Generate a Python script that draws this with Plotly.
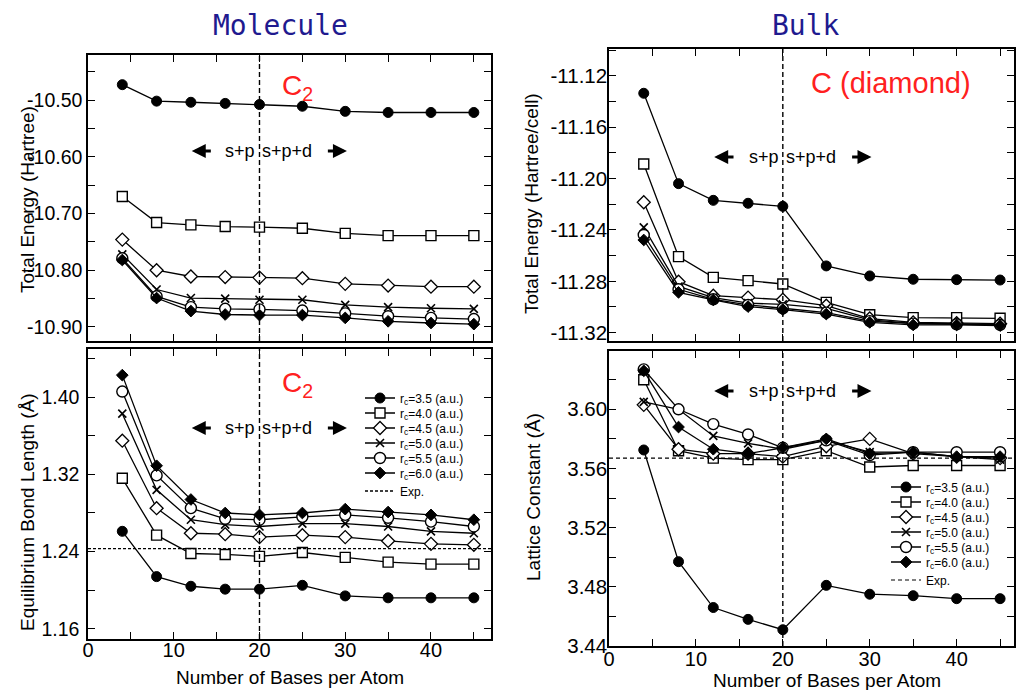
import plotly.graph_objects as go

# ---------------- data ----------------
BASES = [4, 8, 12, 16, 20, 25, 30, 35, 40, 45]
RC_VALUES = ["3.5", "4.0", "4.5", "5.0", "5.5", "6.0"]
SPLIT_BASES = 20
X_RANGE_LEFT = [0, 47]
X_RANGE_RIGHT = [0, 46.6]
X_TICKS = [0, 10, 20, 30, 40]
Y_TICKS_MOL_E = [-10.90, -10.80, -10.70, -10.60, -10.50]
Y_TICKS_MOL_B = [1.16, 1.24, 1.32, 1.40]
Y_TICKS_BULK_E = [-11.32, -11.28, -11.24, -11.20, -11.16, -11.12]
Y_TICKS_BULK_L = [3.44, 3.48, 3.52, 3.56, 3.60]

# Molecule C2 total energy (Hartree)
MOL_E_35 = [-10.473, -10.502, -10.504, -10.506, -10.508, -10.511, -10.520, -10.522, -10.522, -10.522]
MOL_E_40 = [-10.670, -10.716, -10.720, -10.723, -10.724, -10.726, -10.735, -10.739, -10.739, -10.739]
MOL_E_45 = [-10.746, -10.800, -10.811, -10.812, -10.813, -10.814, -10.824, -10.827, -10.829, -10.829]
MOL_E_50 = [-10.772, -10.834, -10.849, -10.850, -10.852, -10.852, -10.861, -10.865, -10.867, -10.868]
MOL_E_55 = [-10.779, -10.846, -10.865, -10.868, -10.869, -10.871, -10.876, -10.881, -10.884, -10.886]
MOL_E_60 = [-10.782, -10.849, -10.872, -10.878, -10.879, -10.879, -10.884, -10.890, -10.893, -10.895]

# Molecule C2 equilibrium bond length (Angstrom)
MOL_B_35 = [1.261, 1.214, 1.204, 1.201, 1.201, 1.205, 1.194, 1.192, 1.192, 1.192]
MOL_B_40 = [1.316, 1.257, 1.238, 1.237, 1.235, 1.239, 1.234, 1.229, 1.227, 1.227]
MOL_B_45 = [1.355, 1.285, 1.259, 1.258, 1.255, 1.257, 1.255, 1.251, 1.248, 1.247]
MOL_B_50 = [1.383, 1.304, 1.273, 1.268, 1.266, 1.269, 1.269, 1.266, 1.261, 1.259]
MOL_B_55 = [1.406, 1.319, 1.285, 1.274, 1.273, 1.276, 1.278, 1.275, 1.271, 1.266]
MOL_B_60 = [1.423, 1.329, 1.294, 1.280, 1.278, 1.280, 1.284, 1.281, 1.278, 1.273]
EXP_BOND = 1.243

# Bulk C (diamond) total energy (Hartree/cell)
BULK_E_35 = [-11.1335, -11.2039, -11.2169, -11.2192, -11.2216, -11.2680, -11.2758, -11.2784, -11.2787, -11.2790]
BULK_E_40 = [-11.1886, -11.2608, -11.2769, -11.2795, -11.2821, -11.2964, -11.3060, -11.3083, -11.3083, -11.3088]
BULK_E_45 = [-11.2184, -11.2803, -11.2912, -11.2927, -11.2943, -11.2990, -11.3090, -11.3120, -11.3127, -11.3130]
BULK_E_50 = [-11.2380, -11.2840, -11.2927, -11.2970, -11.2980, -11.3010, -11.3100, -11.3127, -11.3130, -11.3140]
BULK_E_55 = [-11.2439, -11.2862, -11.2940, -11.2984, -11.3010, -11.3044, -11.3110, -11.3130, -11.3135, -11.3140]
BULK_E_60 = [-11.2478, -11.2886, -11.2945, -11.2997, -11.3020, -11.3055, -11.3120, -11.3140, -11.3140, -11.3145]

# Bulk lattice constant (Angstrom)
BULK_L_35 = [3.5725, 3.497, 3.466, 3.458, 3.451, 3.481, 3.475, 3.474, 3.472, 3.472]
BULK_L_40 = [3.620, 3.572, 3.567, 3.566, 3.566, 3.572, 3.561, 3.562, 3.562, 3.562]
BULK_L_45 = [3.603, 3.573, 3.570, 3.570, 3.568, 3.575, 3.580, 3.570, 3.568, 3.567]
BULK_L_50 = [3.605, 3.600, 3.582, 3.577, 3.573, 3.579, 3.571, 3.571, 3.568, 3.566]
BULK_L_55 = [3.627, 3.600, 3.590, 3.583, 3.574, 3.579, 3.569, 3.571, 3.571, 3.571]
BULK_L_60 = [3.626, 3.588, 3.573, 3.570, 3.574, 3.580, 3.570, 3.571, 3.568, 3.568]
EXP_LATTICE = 3.567

# ---------------- styles ----------------
FONT = "Liberation Sans"
MARKERS = [
    dict(symbol="circle", size=10, color="black", line=dict(width=1, color="black")),
    dict(symbol="square", size=10, color="white", line=dict(width=1.4, color="black")),
    dict(symbol="diamond", size=10, color="white", line=dict(width=1.3, color="black")),
    dict(symbol="x-thin-open", size=8, color="black", line=dict(width=1.6, color="black")),
    dict(symbol="circle", size=11, color="white", line=dict(width=1.4, color="black")),
    dict(symbol="diamond", size=9, color="black", line=dict(width=1, color="black")),
]

fig = go.Figure()

panels = [
    ("x", "y", [MOL_E_35, MOL_E_40, MOL_E_45, MOL_E_50, MOL_E_55, MOL_E_60], None),
    ("x2", "y2", [MOL_B_35, MOL_B_40, MOL_B_45, MOL_B_50, MOL_B_55, MOL_B_60], 0),
    ("x3", "y3", [BULK_E_35, BULK_E_40, BULK_E_45, BULK_E_50, BULK_E_55, BULK_E_60], None),
    ("x4", "y4", [BULK_L_35, BULK_L_40, BULK_L_45, BULK_L_50, BULK_L_55, BULK_L_60], 7),
]

for xa, ya, series, leg_offset in panels:
    for i, (vals, rc) in enumerate(zip(series, RC_VALUES)):
        if leg_offset is not None:
            n = leg_offset + i + 1
            kw = dict(showlegend=True, legend="legend" if n == 1 else f"legend{n}")
        else:
            kw = dict(showlegend=False)
        fig.add_trace(go.Scatter(
            x=BASES, y=vals, xaxis=xa, yaxis=ya, mode="lines+markers",
            name=f"r<sub>c</sub>={rc} (a.u.)",
            line=dict(color="black", width=1.3),
            marker=MARKERS[i], **kw))

fig.add_trace(go.Scatter(
    x=X_RANGE_LEFT, y=[EXP_BOND, EXP_BOND], xaxis="x2", yaxis="y2", mode="lines",
    name="Exp.", line=dict(color="black", width=1.3, dash="3px,2px"),
    showlegend=True, legend="legend7"))
fig.add_trace(go.Scatter(
    x=X_RANGE_RIGHT, y=[EXP_LATTICE, EXP_LATTICE], xaxis="x4", yaxis="y4", mode="lines",
    name="Exp.", line=dict(color="black", width=1.2, dash="4px,3px"),
    showlegend=True, legend="legend14"))


def axis(domain, rng, ticks, minor, labels, anchor, fmt, size, standoff):
    return dict(
        domain=domain, range=rng, anchor=anchor, automargin=False,
        showline=True, linecolor="black", linewidth=1.5, mirror="ticks",
        ticks="inside", ticklen=7, tickwidth=1.2, tickcolor="black",
        tickmode="array", tickvals=ticks, ticktext=[fmt.format(v) for v in ticks],
        minor=dict(dtick=minor, tick0=ticks[0], ticks="inside", ticklen=7, tickwidth=1.2,
                   tickcolor="black", showgrid=False),
        showgrid=False, zeroline=False, showticklabels=labels,
        ticklabelstandoff=standoff,
        tickfont=dict(size=size, color="black", family=FONT),
    )


W, H = 1016, 690
LX = [88 / W, 491 / W]
RX = [609 / W, 1014 / W]

layout = dict(
    width=W, height=H, margin=dict(l=0, r=0, t=0, b=0, autoexpand=False),
    paper_bgcolor="white", plot_bgcolor="white",
    font=dict(family=FONT, color="black"),
    xaxis=axis(LX, X_RANGE_LEFT, X_TICKS, 5, False, "y", "{:d}", 20, -8),
    yaxis=axis([1 - 341 / H, 1 - 55 / H], [-10.9247, -10.4207], Y_TICKS_MOL_E, 0.05, True, "x", "{:.2f}", 19.5, 0),
    xaxis2=axis(LX, X_RANGE_LEFT, X_TICKS, 5, True, "y2", "{:d}", 20, -8),
    yaxis2=axis([1 - 639 / H, 1 - 349 / H], [1.1493, 1.4501], Y_TICKS_MOL_B, 0.04, True, "x2", "{:.2f}", 19.5, 3),
    xaxis3=axis(RX, X_RANGE_RIGHT, X_TICKS, 5, False, "y3", "{:d}", 20, -6),
    yaxis3=axis([1 - 341 / H, 1 - 49 / H], [-11.3265, -11.099], Y_TICKS_BULK_E, 0.02, True, "x3", "{:.2f}", 20.5, -4),
    xaxis4=axis(RX, X_RANGE_RIGHT, X_TICKS, 5, True, "y4", "{:d}", 20, -6),
    yaxis4=axis([1 - 646 / H, 1 - 351 / H], [3.44, 3.6394], Y_TICKS_BULK_L, 0.02, True, "x4", "{:.2f}", 20.5, -4),
)

# per-entry legends for exact spacing
left_ys = [398, 413, 428, 443, 458, 473, 491]
right_ys = [487, 502, 517, 532, 547, 562, 580]
for k, yy in enumerate(left_ys + right_ys):
    n = k + 1
    key = "legend" if n == 1 else f"legend{n}"
    xx = 360 / W if k < 7 else 886 / W
    layout[key] = dict(x=xx, y=1 - yy / H, xanchor="left", yanchor="middle",
                       bgcolor="rgba(0,0,0,0)", borderwidth=0,
                       font=dict(size=12, family=FONT, color="black"))

fig.update_layout(**layout)

# vertical split lines
for xa in ["x", "x2", "x3", "x4"]:
    fig.add_shape(type="line", xref=xa, x0=SPLIT_BASES, x1=SPLIT_BASES,
                  yref=("y" if xa == "x" else "y" + xa[1:]) + " domain", y0=0, y1=1,
                  line=dict(color="black", width=1.4, dash="5px,3px"))

NAVY = "#1f1a8f"
RED = "#ff2020"
ann = []


def label(text, px, py, size, color="black", family=FONT, angle=0):
    return dict(text=text, x=px / W, y=1 - py / H, xref="paper", yref="paper",
                xanchor="center", yanchor="middle", textangle=angle, showarrow=False,
                font=dict(family=family, size=size, color=color))


ann.append(label("Molecule", 280, 25, 28, NAVY, "DejaVu Sans Mono"))
ann.append(label("Bulk", 806, 25, 28, NAVY, "DejaVu Sans Mono"))
ann.append(label("C<sub>2</sub>", 297, 88, 28, RED))
ann.append(label("C<sub>2</sub>", 297, 384, 28, RED))
ann.append(label("C (diamond)", 891, 83, 29, RED))

# "s+p | s+p+d" markers with arrows (arrow offsets in x-axis units from the split)
for xa, ypx in [("x", 151), ("x2", 428), ("x3", 157), ("x4", 391)]:
    yp = 1 - ypx / H
    ann.append(dict(text="s+p", x=SPLIT_BASES, xref=xa, y=yp, yref="paper",
                    xanchor="right", yanchor="middle", xshift=-2, showarrow=False, font=dict(size=18)))
    ann.append(dict(text="s+p+d", x=SPLIT_BASES, xref=xa, y=yp, yref="paper",
                    xanchor="left", yanchor="middle", xshift=1, showarrow=False, font=dict(size=18)))
    for head, tail in [(SPLIT_BASES - 7.9, SPLIT_BASES - 5.5), (SPLIT_BASES + 10.2, SPLIT_BASES + 7.8)]:
        ann.append(dict(text="", x=head, xref=xa, y=yp, yref="paper",
                        ax=tail, axref=xa, ay=0, ayref="pixel", showarrow=True,
                        arrowhead=2, arrowsize=1.0, arrowwidth=2.8, arrowcolor="black",
                        standoff=0, startstandoff=0))

ann.append(label("Total Energy (Hartree)", 28, 200, 19, angle=-90))
ann.append(label("Equilibrium Bond Length (Å)", 27, 512, 19, angle=-90))
ann.append(label("Total Energy (Hartree/cell)", 531, 204, 19, angle=-90))
ann.append(label("Lattice Constant (Å)", 533, 497, 19, angle=-90))
ann.append(label("Number of Bases per Atom", 290, 677, 19))
ann.append(label("Number of Bases per Atom", 827, 680, 19))

fig.update_layout(annotations=ann)
fig.write_html("out.html")
